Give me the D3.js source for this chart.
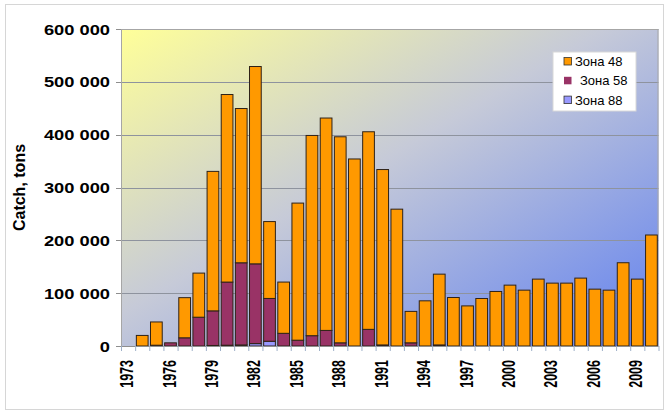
<!DOCTYPE html>
<html>
<head>
<meta charset="utf-8">
<script src="https://cdn.jsdelivr.net/npm/d3@7"></script>
<style>
  body { margin: 0; background: #fff; }
  svg { display: block; font-family: Arial, "Liberation Sans", sans-serif; }
</style>
</head>
<body>
<div id="chart"></div>
<script>
// catch per year, tons
var years = [1973, 1974, 1975, 1976, 1977, 1978, 1979, 1980, 1981, 1982,
             1983, 1984, 1985, 1986, 1987, 1988, 1989, 1990, 1991, 1992,
             1993, 1994, 1995, 1996, 1997, 1998, 1999, 2000, 2001, 2002,
             2003, 2004, 2005, 2006, 2007, 2008, 2009, 2010];
var zone48 = [0, 20000, 44000, 0, 76000, 83500, 264000, 355000, 292000, 373500,
              145500, 97000, 259500, 379000, 402000, 390000, 354000, 374000, 332000, 259000,
              59500, 85500, 134000, 91800, 75900, 89900, 103200, 115200, 105700, 126600,
              119000, 119000, 128500, 107600, 105700, 157600, 126600, 210100];
var zone58 = [0, 0, 1500, 6000, 15500, 54500, 65500, 119500, 155500, 151000,
              81000, 24000, 11000, 19500, 29500, 6000, 0, 31500, 2000, 0,
              6000, 0, 2000, 0, 0, 0, 0, 0, 0, 0,
              0, 0, 0, 0, 0, 0, 0, 0];
var zone88 = [0, 0, 0, 0, 0, 0, 1000, 1500, 2000, 4500,
              9000, 0, 0, 0, 0, 0, 0, 0, 0, 0,
              0, 0, 0, 0, 0, 0, 0, 0, 0, 0,
              0, 0, 0, 0, 0, 0, 0, 0];
var yTicks = [0, 100000, 200000, 300000, 400000, 500000, 600000];
var seriesNames = ['Зона 48', 'Зона 58', 'Зона 88'];
var seriesColors = ['#ff9900', '#993366', '#9999ff'];

var rows = years.map(function(y, i) {
    return { year: y, z88: zone88[i], z58: zone58[i], z48: zone48[i] };
});

var svg = d3.select('#chart')
    .append('svg')
    .attr('width', 670)
    .attr('height', 415);

// outer frame
svg.append('rect')
    .attr('x', 5.5).attr('y', 4.5)
    .attr('width', 658).attr('height', 405)
    .attr('fill', '#fff')
    .attr('stroke', '#d6d6d6');

var plotLeft = 121, plotRight = 658.5, plotTop = 29, plotBottom = 346;

var x = d3.scaleBand()
    .domain(years)
    .range([plotLeft, plotRight])
    .paddingInner(0.1)
    .paddingOuter(0.05);

var y = d3.scaleLinear()
    .domain([0, 600000])
    .range([plotBottom, plotTop]);

var defs = svg.append('defs');
var grad = defs.append('linearGradient')
    .attr('id', 'bg')
    .attr('x1', 0).attr('y1', 0)
    .attr('x2', 1).attr('y2', 1);
grad.append('stop').attr('offset', '0%').attr('stop-color', '#ffff99');
grad.append('stop').attr('offset', '45%').attr('stop-color', '#c6cad8');
grad.append('stop').attr('offset', '100%').attr('stop-color', '#6080f0');

svg.append('rect')
    .attr('x', plotLeft).attr('y', plotTop)
    .attr('width', plotRight - plotLeft).attr('height', plotBottom - plotTop)
    .attr('fill', 'url(#bg)');

// gridlines
svg.append('g')
    .selectAll('line')
    .data(yTicks.filter(function(d) { return d > 0; }))
    .join('line')
    .attr('x1', plotLeft).attr('x2', plotRight)
    .attr('y1', function(d) { return Math.round(y(d)) + 0.5; })
    .attr('y2', function(d) { return Math.round(y(d)) + 0.5; })
    .attr('stroke', '#8e939e')
    .attr('stroke-width', 1);

// plot border
svg.append('rect')
    .attr('x', plotLeft + 0.5).attr('y', plotTop + 0.5)
    .attr('width', plotRight - plotLeft - 1).attr('height', plotBottom - plotTop)
    .attr('fill', 'none')
    .attr('stroke', '#a6a6a6');

// stacked bars
var stack = d3.stack().keys(['z88', 'z58', 'z48']);
var layers = stack(rows);
var layerColor = { z88: '#9999ff', z58: '#993366', z48: '#ff9900' };

svg.append('g')
    .selectAll('g')
    .data(layers)
    .join('g')
    .attr('fill', function(d) { return layerColor[d.key]; })
    .selectAll('rect')
    .data(function(d) { return d.filter(function(p) { return p[1] - p[0] > 0; }); })
    .join('rect')
    .attr('x', function(d) { return x(d.data.year) + 0.5; })
    .attr('width', x.bandwidth() - 1)
    .attr('y', function(d) { return y(d[1]); })
    .attr('height', function(d) { return y(d[0]) - y(d[1]); })
    .attr('stroke', '#2e2218')
    .attr('stroke-width', 1);

// x axis
var xAxis = svg.append('g')
    .attr('transform', 'translate(0,' + plotBottom + ')');
xAxis.append('line')
    .attr('x1', plotLeft).attr('x2', plotRight)
    .attr('y1', 0.5).attr('y2', 0.5)
    .attr('stroke', '#8e8e8e');
xAxis.selectAll('line.tick')
    .data(years.concat([null]))
    .join('line')
    .attr('class', 'tick')
    .attr('x1', function(d, i) { return plotLeft + i * x.step() + 0.5; })
    .attr('x2', function(d, i) { return plotLeft + i * x.step() + 0.5; })
    .attr('y1', 0).attr('y2', 5)
    .attr('stroke', '#9fb0c8');
xAxis.selectAll('text')
    .data(years.filter(function(d, i) { return i % 3 === 0; }))
    .join('text')
    .attr('transform', function(d) {
        return 'translate(' + (x(d) + x.bandwidth() / 2 + 5) + ',14) scale(1.45,1) rotate(-90)';
    })
    .attr('text-anchor', 'end')
    .style('font-size', '12.5px')
    .style('font-weight', 'bold')
    .style('fill', '#000')
    .text(function(d) { return d; });

// y axis
var yAxis = svg.append('g');
yAxis.selectAll('line')
    .data(yTicks)
    .join('line')
    .attr('x1', plotLeft - 5).attr('x2', plotLeft)
    .attr('y1', function(d) { return Math.round(y(d)) + 0.5; })
    .attr('y2', function(d) { return Math.round(y(d)) + 0.5; })
    .attr('stroke', '#8e8e8e');
yAxis.selectAll('text')
    .data(yTicks)
    .join('text')
    .attr('transform', function(d) {
        return 'translate(110,' + (y(d) + 5.5) + ') scale(1.22,1)';
    })
    .attr('text-anchor', 'end')
    .style('font-size', '15px')
    .style('font-weight', 'bold')
    .style('fill', '#000')
    .text(function(d) { return d3.format(',')(d).replace(/,/g, ' '); });

svg.append('text')
    .attr('transform', 'translate(25,' + ((plotTop + plotBottom) / 2) + ') rotate(-90)')
    .attr('text-anchor', 'middle')
    .style('font-size', '16px')
    .style('font-weight', 'bold')
    .style('fill', '#000')
    .text('Catch, tons');

// legend
var legend = svg.append('g');
legend.append('rect')
    .attr('x', 553).attr('y', 52)
    .attr('width', 83).attr('height', 59)
    .attr('fill', '#fff')
    .attr('stroke', '#d8d8d8');
var item = legend.selectAll('g')
    .data(seriesNames)
    .join('g')
    .attr('transform', function(d, i) { return 'translate(564,' + (57.5 + i * 19.3) + ')'; });
item.append('rect')
    .attr('width', 7.5).attr('height', 7.5)
    .attr('fill', function(d, i) { return seriesColors[i]; })
    .attr('stroke', function(d, i) { return i === 1 ? 'none' : '#333'; })
    .attr('stroke-width', 0.8);
item.append('text')
    .attr('x', function(d, i) { return i === 1 ? 16 : 11; })
    .attr('y', 8.5)
    .style('font-size', '13px')
    .style('fill', '#000')
    .text(function(d) { return d; });
</script>
</body>
</html>
